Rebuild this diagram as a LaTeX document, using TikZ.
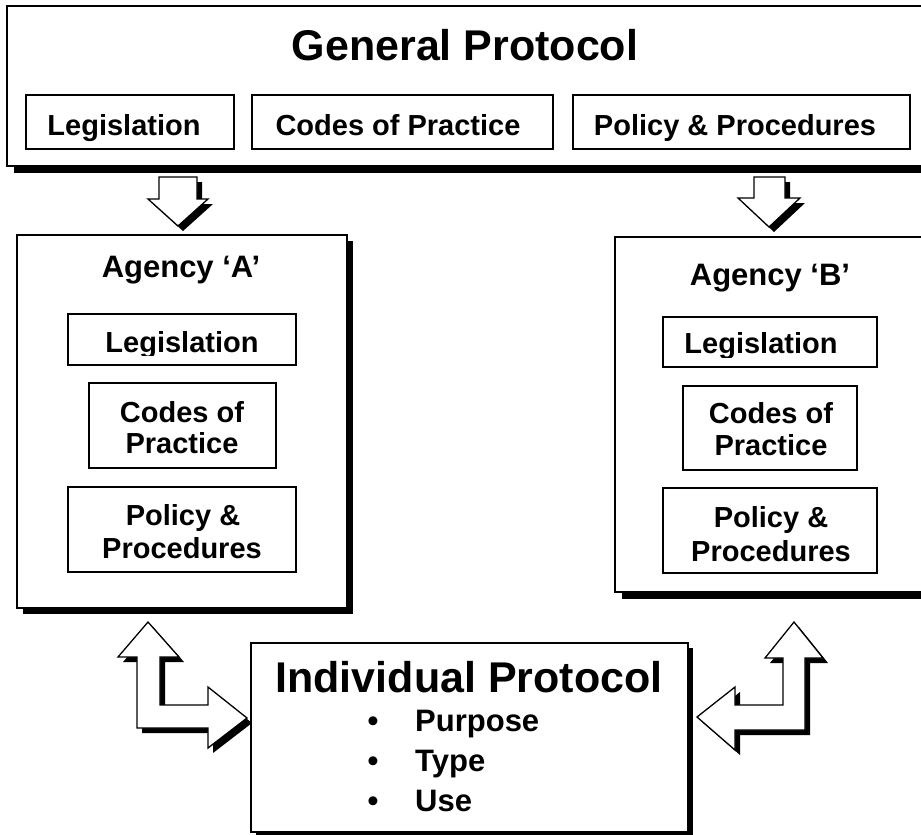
\documentclass[tikz,border=0pt]{standalone}
\usepackage{fontspec}
\setmainfont{Liberation Sans}
\usetikzlibrary{shadows}
\begin{document}
\begin{tikzpicture}[x=1pt,y=-1pt,
  panel/.style={draw=black, line width=1.4pt, fill=white, inner sep=0pt, outer sep=0pt},
  shadowed/.style={general shadow={fill=black, shadow xshift=#1, shadow yshift=-#1}},
  part/.style={draw=black, line width=1.1pt, fill=white, inner sep=0pt, outer sep=0pt},
  lbl/.style={anchor=base, inner sep=0pt, font=\fontsize{29}{33}\selectfont\bfseries},
  head/.style={anchor=base, inner sep=0pt, font=\fontsize{31}{35}\selectfont\bfseries},
  item/.style={anchor=base west, inner sep=0pt, font=\fontsize{31}{35}\selectfont\bfseries},
  big/.style={anchor=base, inner sep=0pt, font=\fontsize{43}{49}\selectfont\bfseries},
  blockarrow/.style={draw=black, line width=1.3pt, fill=white, line join=miter},
  arrowshade/.style={fill=black},
]
\useasboundingbox (0,0) rectangle (921,835);
\clip (0,0) rectangle (921,835);
\fill[white] (0,0) rectangle (921,835);

% ---- General protocol ----
\node[panel, shadowed=7pt, minimum width=923, minimum height=160] (gp) at (468.5,86) {};
\node[big] (gpt) at (465,60) {General Protocol};
\node[part, minimum width=208, minimum height=54] (gl) at (130,122) {};
\node[part, minimum width=301, minimum height=54] (gc) at (402.5,122) {};
\node[part, minimum width=337, minimum height=54] (gpp) at (741.5,122) {};
\node[lbl] (glt) at (124,135) {Legislation};
\node[lbl] (gct) at (398,135) {Codes of Practice};
\node[lbl] (gpt2) at (735,135) {Policy \& Procedures};

% ---- down arrows ----
\newcommand\downA{(159,177) -- (197,177) -- (197,199) -- (208,199) -- (178,226) -- (148,199) -- (159,199) -- cycle}
\newcommand\downB{(754,177) -- (785,177) -- (785,198) -- (800,198) -- (769,227) -- (738,198) -- (754,198) -- cycle}
\fill[arrowshade, shift={(5,5)}] \downA;
\draw[blockarrow] \downA;
\fill[arrowshade, shift={(5,5)}] \downB;
\draw[blockarrow] \downB;

% ---- Agency A ----
\node[panel, shadowed=6pt, minimum width=330, minimum height=373] (aa) at (182,421.5) {};
\node[head] (aat) at (181,277) {Agency ‘A’};
\node[part, minimum width=228, minimum height=51] (al) at (182,339.5) {};
\node[part, minimum width=187, minimum height=85] (ac) at (182.5,425.5) {};
\node[part, minimum width=228, minimum height=85] (ap) at (182,529.5) {};
\begin{scope}
  \clip (70,316) rectangle (294,355);
  \node[lbl] (alt) at (182,352) {Legislation};
\end{scope}
\node[lbl] (act1) at (182,422) {Codes of};
\node[lbl] (act2) at (182,453) {Practice};
\node[lbl] (apt1) at (183,525) {Policy \&};
\node[lbl] (apt2) at (182,558) {Procedures};

% ---- Agency B ----
\node[panel, shadowed=7pt, minimum width=320, minimum height=355] (bb) at (775,414.5) {};
\node[head] (bbt) at (770,285) {Agency ‘B’};
\node[part, minimum width=214, minimum height=50] (bl) at (770,342) {};
\node[part, minimum width=174, minimum height=84] (bc) at (770,428) {};
\node[part, minimum width=214, minimum height=85] (bp) at (770,530.5) {};
\begin{scope}
  \clip (665,319) rectangle (875,357);
  \node[lbl] (blt) at (761,353) {Legislation};
\end{scope}
\node[lbl] (bct1) at (771,423) {Codes of};
\node[lbl] (bct2) at (771,455) {Practice};
\node[lbl] (bpt1) at (771,527) {Policy \&};
\node[lbl] (bpt2) at (771,561) {Procedures};

% ---- Individual protocol ----
\node[panel, shadowed=5pt, minimum width=437, minimum height=189] (ip) at (469.5,737.5) {};
\node[big] (ipt) at (469,692) {Individual Protocol};
\node[head] (b1) at (373,731) {\textbullet};
\node[head] (b2) at (373,771) {\textbullet};
\node[head] (b3) at (373,811) {\textbullet};
\node[item] (i1) at (415,731) {Purpose};
\node[item] (i2) at (415,771) {Type};
\node[item] (i3) at (415,811) {Use};

% ---- two-way elbow arrows ----
\newcommand\elbowA{(148,622) -- (179,657) -- (160,657) -- (160,705) -- (208,705) -- (208,687) -- (247,718) -- (208,748) -- (208,728) -- (137,728) -- (137,657) -- (118,657) -- cycle}
\newcommand\elbowB{(794,622) -- (823,658) -- (805,658) -- (805,730) -- (735,730) -- (735,750) -- (697,717) -- (735,687) -- (735,705) -- (783,705) -- (783,658) -- (765,658) -- cycle}
\fill[arrowshade, shift={(5,5)}] \elbowA;
\draw[blockarrow] \elbowA;
\fill[arrowshade, shift={(5,5)}] \elbowB;
\draw[blockarrow] \elbowB;
\end{tikzpicture}
\end{document}
